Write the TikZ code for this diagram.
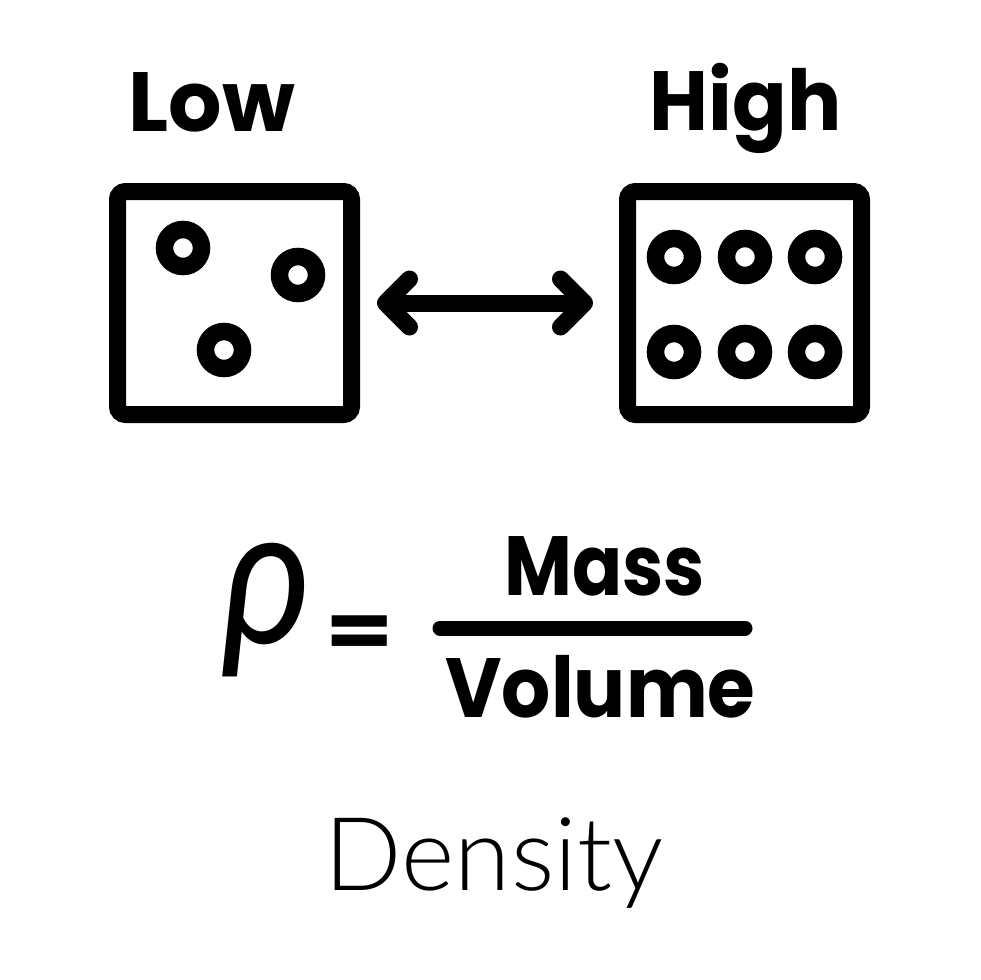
\documentclass[tikz,border=0pt]{standalone}
\usepackage{fontspec}
\usepackage{tikz}
\usetikzlibrary{positioning,arrows.meta}
\newfontfamily\labelfont{Poppins}
\newfontfamily\greekfont{Lato}
\newfontfamily\thinfont{Lato Light}

\begin{document}
\begin{tikzpicture}[x=1pt,y=-1pt,
    boxline/.style={draw,line width=17pt,rounded corners=8pt,inner sep=0pt,
      minimum width=234pt,minimum height=223pt},
    dotring/.style={line width=17.5pt},
    heading/.style={font=\labelfont\bfseries\addfontfeature{FakeStretch=#1}\fontsize{84}{90}\selectfont,
      anchor=base,inner sep=0pt},
    heading/.default=1,
    twoway/.style={line width=17pt,
      {Straight Barb[round,length=24pt,width=48pt]}-{Straight Barb[round,length=24pt,width=48pt]}}]
  \fill[white] (0,0) rectangle (980,980);
  \useasboundingbox (0,0) rectangle (980,980);
  % dice
  \node[boxline] (lowbox) at (234.5,303) {};
  \node[boxline] (highbox) at (744.5,303) {};
  \node[heading] (low) at (212,131) {Low};
  \node[heading=0.96] (high) at (745.5,130) {High};
  % pips
  \foreach \px/\py in {183/248,298/275,224/350}
    \draw[dotring] (\px,\py) circle (18.5pt);
  \foreach \px in {674,745,815}
    \foreach \py in {257,352}
      \draw[dotring] (\px,\py) circle (18.5pt);
  \draw[twoway] ([xshift=17pt]lowbox.east) -- ([xshift=-26pt]highbox.west);
  % formula
  \node[font=\greekfont\itshape\fontsize{150}{150}\selectfont,anchor=base,inner sep=0pt] (rho) at (267,643) {\scalebox{1.14}[1.3]{ρ}};
  \node[font=\labelfont\bfseries\fontsize{82}{82}\selectfont,anchor=base,inner sep=0pt] (eq) at (360,657) {\scalebox{1.2}[0.92]{=}};
  \node[heading=0.88] (mass) at (604.5,595) {Mass};
  \node[heading=0.92] (volume) at (600.5,717) {Volume};
  \draw[line width=15pt,line cap=round] (440,628) -- (745,628);
  \node[font=\thinfont\fontsize{102}{110}\selectfont,anchor=base,inner sep=0pt] (caption) at (494,890) {Density};
\end{tikzpicture}
\end{document}
